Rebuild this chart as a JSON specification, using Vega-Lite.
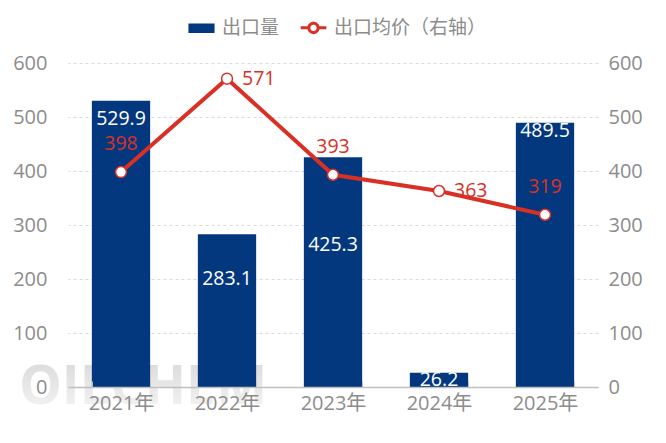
{
  "$schema": "https://vega.github.io/schema/vega-lite/v6.json",
  "width": 530,
  "height": 324,
  "autosize": {"type": "none"},
  "padding": {"left": 68, "top": 63, "right": 68, "bottom": 56},
  "background": "white",
  "data": {
    "values": [
      {"year": "2021年", "volume": 529.9, "price": 398},
      {"year": "2022年", "volume": 283.1, "price": 571},
      {"year": "2023年", "volume": 425.3, "price": 393},
      {"year": "2024年", "volume": 26.2, "price": 363},
      {"year": "2025年", "volume": 489.5, "price": 319}
    ]
  },
  "encoding": {
    "x": {
      "field": "year",
      "type": "nominal",
      "scale": {"paddingInner": 0.45, "paddingOuter": 0.225},
      "axis": {
        "title": null,
        "labelAngle": 0,
        "labelPadding": 12,
        "tickBand": "extent",
        "tickSize": -6,
        "tickColor": "#bfbfbf",
        "domainColor": "#bfbfbf",
        "domainWidth": 1.5,
        "zindex": 1
      }
    }
  },
  "layer": [
    {
      "encoding": {
        "y": {
          "field": "volume",
          "type": "quantitative",
          "scale": {"domain": [0, 600]},
          "axis": {
            "title": null,
            "orient": "left",
            "values": [0, 100, 200, 300, 400, 500, 600],
            "grid": false,
            "domain": false,
            "ticks": false,
            "labelPadding": 21,
            "zindex": 1
          }
        }
      },
      "layer": [
        {
          "transform": [{"filter": "datum.year === '2021年'"}],
          "mark": {
            "type": "text",
            "text": "OILCHEM",
            "font": "Open Sans",
            "fontWeight": "bold",
            "fontSize": 54,
            "dx": 22,
            "dy": 1,
            "color": {
              "gradient": "linear",
              "x1": 0, "y1": 0, "x2": 0, "y2": 1,
              "stops": [
                {"offset": 0, "color": "#d4d4d4"},
                {"offset": 1, "color": "#f8f8f8"}
              ]
            }
          },
          "encoding": {"y": {"datum": 0, "type": "quantitative"}}
        },
        {
          "mark": {"type": "bar", "clip": false},
          "encoding": {
            "color": {
              "datum": "出口量",
              "type": "nominal",
              "legend": {
                "encode": {
                  "symbols": {
                    "update": {
                      "shape": [
                        {"test": "datum.value === '出口量'", "value": "M-0.9,-0.26H0.9V0.26H-0.9Z"},
                        {"value": "M-1,0H-0.37M0.37,0H1M0.37,0L0.32,0.185L0.185,0.32L0,0.37L-0.185,0.32L-0.32,0.185L-0.37,0L-0.32,-0.185L-0.185,-0.32L0,-0.37L0.185,-0.32L0.32,-0.185L0.37,0L0.32,-0.185L0.185,-0.32L0,-0.37L-0.185,-0.32L-0.32,-0.185L-0.37,0L-0.32,0.185L-0.185,0.32L0,0.37L0.185,0.32L0.32,0.185L0.37,0"}
                      ],
                      "strokeWidth": {"value": 3}
                    }
                  }
                }
              }
            }
          }
        },
        {
          "transform": [{"filter": "datum.year === '2021年'"}],
          "mark": {"type": "text", "color": "white", "fontSize": 19.5, "dy": 18},
          "encoding": {"text": {"field": "volume", "format": ".1f"}}
        },
        {
          "transform": [{"filter": "datum.year === '2022年'"}],
          "mark": {"type": "text", "color": "white", "fontSize": 19.5, "dy": 45},
          "encoding": {"text": {"field": "volume", "format": ".1f"}}
        },
        {
          "transform": [{"filter": "datum.year === '2023年'"}],
          "mark": {"type": "text", "color": "white", "fontSize": 19.5, "dy": 88},
          "encoding": {"text": {"field": "volume", "format": ".1f"}}
        },
        {
          "transform": [{"filter": "datum.year === '2024年'"}],
          "mark": {"type": "text", "color": "white", "fontSize": 19.5, "dy": 7},
          "encoding": {"text": {"field": "volume", "format": ".1f"}}
        },
        {
          "transform": [{"filter": "datum.year === '2025年'"}],
          "mark": {"type": "text", "color": "white", "fontSize": 19.5, "dy": 8},
          "encoding": {"text": {"field": "volume", "format": ".1f"}}
        }
      ]
    },
    {
      "encoding": {
        "y": {
          "field": "price",
          "type": "quantitative",
          "scale": {"domain": [0, 600]},
          "axis": {
            "title": null,
            "orient": "right",
            "values": [0, 100, 200, 300, 400, 500, 600],
            "grid": true,
            "gridColor": "#d9d9d9",
            "gridDash": [3, 3],
            "domain": false,
            "ticks": false,
            "labelPadding": 10
          }
        }
      },
      "layer": [
        {
          "mark": {"type": "line", "strokeWidth": 4},
          "encoding": {"color": {"datum": "出口均价（右轴）", "type": "nominal"}}
        },
        {
          "mark": {"type": "point", "filled": true, "fill": "white", "stroke": "#d93025", "strokeWidth": 1.5, "size": 120, "opacity": 1}
        },
        {
          "transform": [{"filter": "datum.year === '2021年' || datum.year === '2023年' || datum.year === '2025年'"}],
          "mark": {"type": "text", "color": "#d93025", "fontSize": 19.5, "dy": -28},
          "encoding": {"text": {"field": "price"}}
        },
        {
          "transform": [{"filter": "datum.year === '2022年' || datum.year === '2024年'"}],
          "mark": {"type": "text", "color": "#d93025", "fontSize": 19.5, "align": "left", "dx": 15},
          "encoding": {"text": {"field": "price"}}
        }
      ]
    }
  ],
  "resolve": {"scale": {"y": "independent"}},
  "config": {
    "font": "Open Sans",
    "view": {"stroke": null},
    "axis": {"labelFont": "Open Sans, Noto Sans CJK SC", "labelFontSize": 20, "labelColor": "#8c8c8c"},
    "text": {"font": "Open Sans"},
    "range": {"category": ["#03387f", "#d93025"]},
    "legend": {
      "orient": "none",
      "legendX": 119,
      "legendY": -50,
      "direction": "horizontal",
      "title": null,
      "labelFont": "Noto Sans CJK SC",
      "labelFontSize": 19,
      "labelColor": "#8c8c8c",
      "symbolSize": 660,
      "columnPadding": 14,
      "labelOffset": 6
    }
  }
}
